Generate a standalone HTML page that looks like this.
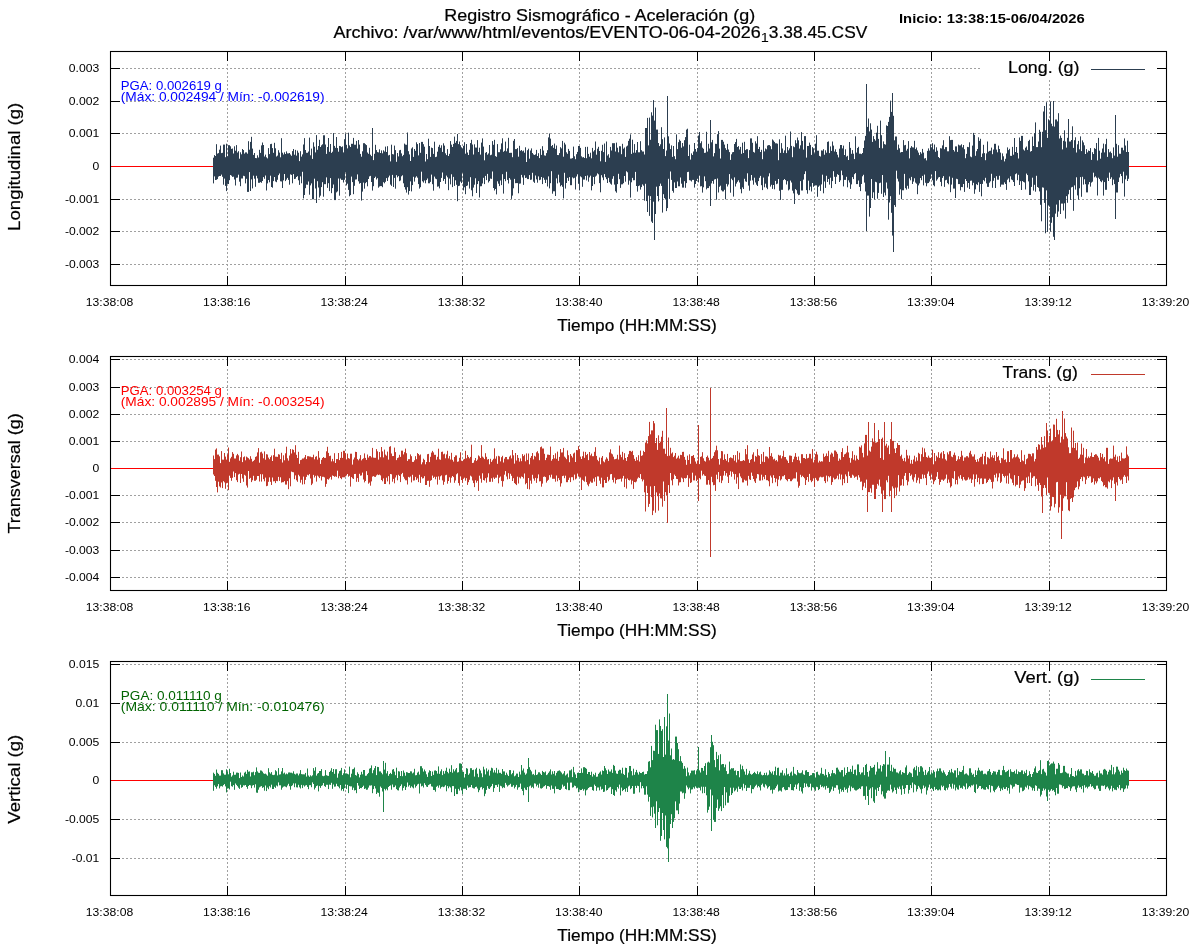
<!DOCTYPE html><html><head><meta charset="utf-8"><style>html,body{margin:0;padding:0;background:#fff;width:1200px;height:950px;overflow:hidden}svg{display:block;will-change:transform}text{font-family:"Liberation Sans", sans-serif;stroke-width:0.22px}</style></head><body>
<svg width="1200" height="950" viewBox="0 0 1200 950">
<rect x="0" y="0" width="1200" height="950" fill="#fff"/>
<text x="444.30" y="20.5" font-size="16.96" fill="#000" stroke="#000" textLength="310.89" lengthAdjust="spacingAndGlyphs">Registro Sismográfico - Aceleración (g)</text>
<text x="333.51" y="37.5" font-size="16.96" fill="#000" stroke="#000" textLength="427.20" lengthAdjust="spacingAndGlyphs">Archivo: /var/www/html/eventos/EVENTO-06-04-2026</text>
<text x="760.71" y="41.8" font-size="13.57" fill="#000" textLength="8.14" lengthAdjust="spacingAndGlyphs">1</text>
<text x="768.86" y="37.5" font-size="16.96" fill="#000" stroke="#000" textLength="98.43" lengthAdjust="spacingAndGlyphs">3.38.45.CSV</text>
<text x="899.00" y="23" font-size="12.72" fill="#000" font-weight="bold" style="stroke:none" textLength="185.81" lengthAdjust="spacingAndGlyphs">Inicio: 13:38:15-06/04/2026</text>
<path d="M227.5 64V275 M345.5 64V275 M462.5 64V275 M579.5 64V275 M697.5 64V275 M814.5 64V275 M931.5 64V275 M1049.5 64V275 M122 68.5H1156 M122 101.5H1156 M122 133.5H1156 M122 199.5H1156 M122 231.5H1156 M122 264.5H1156" stroke="#a0a0a0" stroke-width="1" stroke-dasharray="2,2" fill="none"/>
<rect x="980" y="57" width="177" height="23" fill="#fff"/>
<path d="M110 166.5H1166" stroke="#ff0000" stroke-width="1.2"/>
<path d="M213.5 157.7V183.4M214.5 155.1V176.4M215.5 156.0V180.0M216.5 144.2V179.8M217.5 153.6V179.1M218.5 153.1V176.6M219.5 149.7V176.0M220.5 145.6V176.0M221.5 153.1V174.6M222.5 152.8V176.8M223.5 144.6V184.7M224.5 144.6V178.6M225.5 157.2V185.9M226.5 143.7V191.1M227.5 156.3V183.9M228.5 145.2V184.0M229.5 145.2V180.2M230.5 146.3V175.0M231.5 148.9V175.7M232.5 148.5V176.9M233.5 153.5V176.7M234.5 146.3V179.5M235.5 150.7V185.5M236.5 145.1V177.8M237.5 152.5V177.6M238.5 151.2V174.7M239.5 158.7V181.7M240.5 152.3V186.2M241.5 154.3V178.5M242.5 149.0V178.5M243.5 150.0V175.8M244.5 153.6V176.2M245.5 152.4V183.4M246.5 152.4V178.8M247.5 153.7V191.9M248.5 141.2V191.9M249.5 149.7V172.1M250.5 141.9V191.0M251.5 136.8V179.4M252.5 148.6V188.4M253.5 154.9V175.7M254.5 153.0V178.7M255.5 158.0V186.8M256.5 158.2V175.8M257.5 155.3V178.4M258.5 157.5V182.8M259.5 149.8V182.8M260.5 152.9V182.1M261.5 145.4V182.8M262.5 142.5V181.0M263.5 145.0V177.1M264.5 156.5V178.8M265.5 154.6V175.5M266.5 157.3V190.5M267.5 158.4V183.4M268.5 148.1V180.0M269.5 154.1V182.3M270.5 144.1V175.7M271.5 143.8V187.0M272.5 148.1V187.7M273.5 152.8V181.1M274.5 142.8V177.0M275.5 148.3V181.5M276.5 156.5V182.2M277.5 155.6V179.8M278.5 150.2V175.2M279.5 152.6V173.5M280.5 157.3V181.3M281.5 138.2V181.5M282.5 152.7V188.0M283.5 154.5V180.4M284.5 152.3V174.0M285.5 154.0V181.1M286.5 151.4V179.6M287.5 153.4V177.9M288.5 153.4V179.9M289.5 153.0V184.7M290.5 154.5V174.4M291.5 155.8V174.9M292.5 151.1V183.3M293.5 149.0V174.1M294.5 154.7V179.0M295.5 149.9V178.7M296.5 155.6V177.0M297.5 150.6V176.2M298.5 152.7V180.3M299.5 161.1V184.9M300.5 151.2V176.4M301.5 156.6V183.3M302.5 154.4V171.8M303.5 144.5V198.4M304.5 138.1V195.0M305.5 150.0V188.2M306.5 152.8V184.6M307.5 152.8V184.8M308.5 151.5V181.5M309.5 137.6V194.7M310.5 155.3V185.4M311.5 148.6V183.4M312.5 158.9V199.3M313.5 142.3V199.3M314.5 146.7V178.7M315.5 152.4V188.5M316.5 135.1V203.0M317.5 149.8V181.2M318.5 146.0V187.5M319.5 139.8V197.5M320.5 147.0V195.7M321.5 145.3V187.1M322.5 144.3V182.2M323.5 135.3V196.7M324.5 135.3V184.2M325.5 144.5V184.2M326.5 153.9V177.4M327.5 147.0V187.9M328.5 138.0V183.2M329.5 151.8V191.1M330.5 144.0V178.1M331.5 152.9V193.2M332.5 151.7V188.1M333.5 133.1V184.5M334.5 145.9V200.1M335.5 147.8V200.1M336.5 137.0V192.4M337.5 148.1V191.4M338.5 151.7V178.5M339.5 145.9V195.7M340.5 146.2V178.6M341.5 147.1V179.9M342.5 146.4V179.9M343.5 152.4V182.5M344.5 139.2V179.8M345.5 133.6V172.3M346.5 144.8V185.4M347.5 148.4V183.7M348.5 132.7V189.9M349.5 145.4V196.3M350.5 147.0V195.1M351.5 143.8V176.6M352.5 143.8V182.1M353.5 137.9V194.2M354.5 144.7V185.8M355.5 144.7V179.6M356.5 140.9V179.4M357.5 148.6V174.4M358.5 140.0V181.3M359.5 144.6V183.7M360.5 153.9V183.0M361.5 156.7V200.6M362.5 151.3V191.6M363.5 143.2V182.6M364.5 143.2V188.7M365.5 144.2V183.2M366.5 145.1V182.1M367.5 152.5V186.3M368.5 153.8V179.0M369.5 147.8V176.4M370.5 154.7V175.9M371.5 156.1V182.0M372.5 128.0V190.6M373.5 160.1V186.2M374.5 153.8V178.0M375.5 144.8V176.7M376.5 150.1V179.5M377.5 152.1V178.2M378.5 152.4V187.7M379.5 149.3V186.5M380.5 153.0V186.1M381.5 150.4V186.1M382.5 153.3V187.2M383.5 150.3V182.2M384.5 151.5V183.3M385.5 146.6V181.8M386.5 152.0V178.1M387.5 146.2V181.0M388.5 155.4V177.4M389.5 154.9V175.6M390.5 161.4V184.6M391.5 144.7V185.9M392.5 154.1V174.9M393.5 154.4V187.0M394.5 145.6V177.9M395.5 150.1V188.7M396.5 161.8V175.2M397.5 153.0V177.3M398.5 156.4V176.1M399.5 150.3V181.2M400.5 149.9V180.5M401.5 153.4V176.3M402.5 156.2V175.3M403.5 154.9V183.3M404.5 143.6V187.1M405.5 144.6V189.6M406.5 144.8V192.6M407.5 132.5V187.2M408.5 151.2V194.6M409.5 154.4V191.0M410.5 161.0V181.4M411.5 148.5V191.4M412.5 147.3V185.1M413.5 156.9V176.8M414.5 149.0V181.6M415.5 150.8V177.6M416.5 142.3V176.3M417.5 144.1V177.7M418.5 155.4V184.1M419.5 143.0V188.6M420.5 152.8V187.2M421.5 141.9V171.7M422.5 141.9V181.3M423.5 144.2V182.6M424.5 146.7V180.5M425.5 161.5V183.3M426.5 154.0V180.1M427.5 159.2V178.5M428.5 138.7V183.3M429.5 146.0V183.3M430.5 156.9V181.9M431.5 147.6V174.6M432.5 148.1V184.2M433.5 153.9V190.7M434.5 141.7V176.6M435.5 157.1V178.6M436.5 156.7V179.2M437.5 151.7V186.7M438.5 146.8V186.4M439.5 144.8V188.4M440.5 147.8V182.0M441.5 145.3V177.9M442.5 151.9V172.5M443.5 143.3V180.9M444.5 145.6V179.0M445.5 153.3V183.9M446.5 155.1V175.6M447.5 149.1V177.3M448.5 156.0V190.2M449.5 153.8V178.6M450.5 141.1V184.4M451.5 144.6V174.3M452.5 147.0V187.1M453.5 143.9V176.9M454.5 136.6V185.9M455.5 142.8V180.3M456.5 140.9V184.8M457.5 134.0V201.2M458.5 144.1V186.1M459.5 141.5V185.7M460.5 145.2V181.6M461.5 147.3V183.1M462.5 148.6V172.8M463.5 145.8V190.4M464.5 142.2V187.3M465.5 153.7V194.2M466.5 144.0V186.0M467.5 152.5V185.5M468.5 155.0V181.7M469.5 149.8V188.6M470.5 143.1V177.2M471.5 139.8V190.3M472.5 144.5V196.3M473.5 154.5V187.6M474.5 144.3V184.7M475.5 147.5V178.3M476.5 147.6V193.0M477.5 140.1V184.1M478.5 152.0V181.1M479.5 147.7V197.5M480.5 154.6V186.3M481.5 142.6V186.2M482.5 138.4V183.5M483.5 146.6V177.8M484.5 160.3V184.1M485.5 152.8V175.9M486.5 152.0V180.1M487.5 154.7V173.9M488.5 153.4V182.5M489.5 145.0V181.1M490.5 155.2V178.6M491.5 154.7V178.9M492.5 141.1V171.5M493.5 144.8V188.0M494.5 139.8V190.5M495.5 156.1V189.0M496.5 156.8V194.4M497.5 144.1V181.3M498.5 152.2V183.7M499.5 152.2V186.1M500.5 149.3V180.5M501.5 143.4V185.1M502.5 138.3V174.2M503.5 151.8V193.6M504.5 150.8V179.0M505.5 141.6V181.2M506.5 151.3V171.8M507.5 148.4V179.9M508.5 137.8V183.5M509.5 152.9V178.1M510.5 152.8V179.7M511.5 152.8V198.9M512.5 157.2V195.6M513.5 140.8V188.3M514.5 139.0V178.9M515.5 149.1V183.2M516.5 149.1V183.1M517.5 148.1V183.1M518.5 156.7V193.3M519.5 145.8V183.7M520.5 150.8V183.5M521.5 150.0V174.9M522.5 151.3V177.5M523.5 150.6V184.9M524.5 152.7V175.3M525.5 147.3V178.0M526.5 162.0V177.7M527.5 150.2V179.1M528.5 148.7V179.1M529.5 158.7V175.1M530.5 150.5V179.9M531.5 148.4V179.6M532.5 153.0V172.8M533.5 154.4V181.7M534.5 155.0V182.9M535.5 154.4V175.5M536.5 149.9V179.4M537.5 156.0V182.7M538.5 153.2V176.4M539.5 158.1V180.2M540.5 148.9V179.7M541.5 154.9V177.0M542.5 146.2V184.1M543.5 150.5V177.8M544.5 155.4V179.8M545.5 155.7V183.0M546.5 153.1V179.7M547.5 150.2V186.5M548.5 137.4V176.4M549.5 133.5V188.4M550.5 138.6V183.2M551.5 146.1V171.2M552.5 145.0V193.7M553.5 147.8V191.3M554.5 143.6V191.3M555.5 148.9V196.0M556.5 145.5V178.4M557.5 155.0V183.4M558.5 155.1V174.7M559.5 153.1V182.5M560.5 147.2V186.3M561.5 148.4V185.1M562.5 140.9V186.8M563.5 156.7V198.4M564.5 142.7V172.8M565.5 144.5V188.6M566.5 152.3V183.0M567.5 153.8V177.9M568.5 148.9V180.9M569.5 150.9V177.1M570.5 158.6V185.2M571.5 158.5V185.2M572.5 158.1V177.4M573.5 146.6V178.4M574.5 156.3V177.8M575.5 159.2V189.5M576.5 154.2V176.5M577.5 151.9V174.3M578.5 146.0V183.8M579.5 146.0V190.4M580.5 147.9V176.4M581.5 156.3V177.3M582.5 157.4V186.8M583.5 157.1V179.6M584.5 158.0V179.6M585.5 146.9V176.0M586.5 158.2V180.4M587.5 146.8V175.5M588.5 153.9V181.7M589.5 156.7V177.4M590.5 152.7V175.7M591.5 158.3V190.4M592.5 147.9V186.0M593.5 151.5V177.0M594.5 150.2V184.2M595.5 141.5V176.6M596.5 154.7V175.6M597.5 148.7V173.4M598.5 146.8V174.3M599.5 151.0V183.1M600.5 161.3V192.3M601.5 150.8V175.2M602.5 144.8V177.5M603.5 152.1V180.2M604.5 143.5V174.1M605.5 161.9V177.2M606.5 141.5V179.2M607.5 155.5V183.0M608.5 154.2V177.9M609.5 157.7V182.2M610.5 146.9V183.7M611.5 150.5V184.7M612.5 143.2V178.8M613.5 143.2V176.2M614.5 143.2V184.6M615.5 151.5V191.3M616.5 142.6V192.7M617.5 147.7V184.1M618.5 152.3V173.8M619.5 146.2V179.2M620.5 146.3V187.9M621.5 154.2V184.4M622.5 143.8V184.3M623.5 148.7V183.2M624.5 147.5V176.0M625.5 156.9V181.7M626.5 146.5V171.3M627.5 145.6V172.3M628.5 140.9V184.7M629.5 138.7V180.6M630.5 134.4V197.6M631.5 153.9V182.3M632.5 139.7V177.9M633.5 152.7V180.3M634.5 144.1V180.2M635.5 152.7V171.9M636.5 150.1V186.0M637.5 142.0V191.6M638.5 152.3V186.1M639.5 152.3V185.5M640.5 141.2V189.6M641.5 150.2V187.1M642.5 151.5V184.4M643.5 151.5V185.7M644.5 154.5V200.7M645.5 128.0V183.8M646.5 128.0V201.1M647.5 117.9V212.0M648.5 145.4V195.7M649.5 117.6V215.9M650.5 139.8V196.2M651.5 112.3V221.6M652.5 115.6V223.0M653.5 100.1V201.7M654.5 120.6V240.0M655.5 107.5V214.0M656.5 129.6V186.7M657.5 129.6V196.0M658.5 143.0V201.4M659.5 146.1V186.1M660.5 144.3V183.6M661.5 127.2V185.9M662.5 139.2V212.6M663.5 149.0V194.2M664.5 137.4V198.1M665.5 156.1V199.5M666.5 150.5V211.1M667.5 96.0V208.1M668.5 136.3V178.8M669.5 143.5V198.9M670.5 149.1V171.5M671.5 145.4V179.9M672.5 156.9V190.9M673.5 146.0V192.7M674.5 156.2V182.4M675.5 159.2V188.0M676.5 134.4V188.0M677.5 149.1V181.5M678.5 142.2V186.3M679.5 139.6V186.3M680.5 140.9V177.5M681.5 147.7V183.7M682.5 143.0V187.6M683.5 146.4V187.6M684.5 140.2V181.2M685.5 137.1V187.8M686.5 129.6V183.1M687.5 128.7V172.1M688.5 156.0V171.8M689.5 144.7V180.2M690.5 159.6V180.5M691.5 153.4V181.5M692.5 155.0V179.9M693.5 151.5V179.9M694.5 143.0V187.6M695.5 149.0V184.0M696.5 151.7V181.0M697.5 148.0V178.8M698.5 135.5V182.4M699.5 132.0V175.7M700.5 143.2V186.4M701.5 141.3V186.2M702.5 147.7V192.6M703.5 148.8V187.3M704.5 152.9V176.4M705.5 152.7V181.2M706.5 131.8V189.4M707.5 151.6V188.1M708.5 143.8V188.1M709.5 148.5V186.2M710.5 120.0V206.0M711.5 142.3V183.4M712.5 139.9V181.0M713.5 156.4V183.8M714.5 153.1V179.5M715.5 143.8V179.1M716.5 143.9V199.7M717.5 134.2V178.5M718.5 131.1V192.5M719.5 148.6V186.8M720.5 158.5V185.7M721.5 139.9V190.3M722.5 139.9V191.4M723.5 141.7V191.4M724.5 144.6V189.8M725.5 148.2V199.3M726.5 149.9V183.9M727.5 143.9V186.5M728.5 149.5V184.5M729.5 152.1V174.1M730.5 159.9V192.7M731.5 154.3V178.7M732.5 152.3V180.2M733.5 152.0V196.6M734.5 144.0V177.4M735.5 142.1V186.5M736.5 138.9V183.6M737.5 147.0V181.8M738.5 146.1V180.3M739.5 149.5V182.5M740.5 146.9V189.2M741.5 153.8V193.3M742.5 142.7V187.4M743.5 153.0V189.0M744.5 141.8V178.8M745.5 150.1V181.4M746.5 149.2V181.9M747.5 149.2V173.3M748.5 158.1V185.6M749.5 150.1V190.7M750.5 138.4V180.7M751.5 138.4V175.0M752.5 142.8V180.4M753.5 151.9V184.7M754.5 152.6V177.7M755.5 141.3V182.5M756.5 143.5V184.7M757.5 136.2V186.0M758.5 149.0V181.1M759.5 146.9V177.8M760.5 152.0V175.9M761.5 149.8V185.2M762.5 159.2V190.1M763.5 140.1V177.6M764.5 151.4V187.3M765.5 148.5V183.7M766.5 149.3V187.7M767.5 145.6V189.2M768.5 145.1V176.4M769.5 145.1V173.3M770.5 146.2V186.6M771.5 149.2V184.8M772.5 139.4V188.9M773.5 140.5V185.0M774.5 141.9V189.3M775.5 143.3V180.9M776.5 143.3V184.2M777.5 143.7V183.6M778.5 160.2V179.0M779.5 139.3V190.8M780.5 152.9V199.9M781.5 143.1V189.8M782.5 148.5V189.8M783.5 152.9V180.1M784.5 150.4V179.1M785.5 135.7V180.1M786.5 153.1V184.5M787.5 147.0V181.2M788.5 150.3V190.4M789.5 148.4V189.4M790.5 131.5V180.6M791.5 145.9V182.5M792.5 157.2V190.7M793.5 146.4V193.4M794.5 147.2V204.0M795.5 140.2V189.1M796.5 143.3V190.2M797.5 137.5V193.7M798.5 140.3V195.2M799.5 148.6V194.8M800.5 145.3V181.1M801.5 132.1V190.5M802.5 140.9V190.5M803.5 149.6V179.6M804.5 136.1V174.1M805.5 136.1V171.3M806.5 157.6V190.1M807.5 146.0V193.7M808.5 146.0V180.7M809.5 142.6V190.2M810.5 144.9V186.6M811.5 154.9V191.5M812.5 147.1V183.0M813.5 148.3V186.8M814.5 153.3V185.6M815.5 143.7V185.4M816.5 135.2V185.4M817.5 150.7V196.8M818.5 150.7V186.8M819.5 155.9V185.6M820.5 156.5V190.9M821.5 150.4V184.4M822.5 150.6V174.7M823.5 149.2V193.3M824.5 154.7V181.5M825.5 150.3V187.9M826.5 152.7V175.8M827.5 141.9V182.0M828.5 141.4V179.0M829.5 153.1V184.6M830.5 146.4V177.7M831.5 150.9V188.1M832.5 141.5V181.1M833.5 145.6V171.2M834.5 151.5V176.8M835.5 149.3V184.0M836.5 152.0V176.8M837.5 154.7V174.2M838.5 157.4V175.0M839.5 148.7V182.0M840.5 145.0V180.3M841.5 145.0V170.6M842.5 148.4V175.2M843.5 145.6V186.4M844.5 155.0V179.9M845.5 149.3V179.9M846.5 156.6V176.8M847.5 155.8V187.3M848.5 160.0V180.3M849.5 142.0V182.5M850.5 147.9V188.9M851.5 153.8V184.4M852.5 150.1V177.1M853.5 153.7V179.1M854.5 159.1V174.2M855.5 136.3V173.1M856.5 152.6V184.1M857.5 148.0V184.1M858.5 146.8V180.5M859.5 153.7V186.9M860.5 153.7V191.1M861.5 154.1V184.0M862.5 153.0V176.3M863.5 148.0V174.8M864.5 140.5V182.6M865.5 135.9V191.5M866.5 84.0V231.0M867.5 126.9V195.6M868.5 118.5V195.6M869.5 131.4V216.6M870.5 123.3V208.0M871.5 129.6V179.0M872.5 141.9V198.0M873.5 136.1V192.3M874.5 139.1V199.5M875.5 140.6V181.8M876.5 132.7V182.3M877.5 125.8V198.7M878.5 138.9V192.9M879.5 147.9V183.2M880.5 120.6V182.7M881.5 135.2V193.8M882.5 148.3V175.0M883.5 141.4V197.0M884.5 144.1V192.6M885.5 144.6V195.4M886.5 125.4V182.5M887.5 126.0V188.6M888.5 121.9V219.7M889.5 116.9V202.5M890.5 100.7V196.2M891.5 111.9V212.8M892.5 93.0V235.6M893.5 115.8V252.0M894.5 140.3V205.1M895.5 136.5V206.9M896.5 136.5V170.7M897.5 149.8V178.7M898.5 144.6V181.5M899.5 148.3V194.7M900.5 152.5V189.3M901.5 152.0V199.2M902.5 152.0V190.3M903.5 140.1V190.3M904.5 145.3V173.9M905.5 144.9V188.2M906.5 150.6V189.6M907.5 148.8V185.8M908.5 141.1V188.7M909.5 158.4V178.4M910.5 147.8V180.3M911.5 146.1V176.9M912.5 147.3V184.0M913.5 147.5V181.6M914.5 140.8V178.3M915.5 149.1V182.6M916.5 147.5V183.7M917.5 150.4V194.2M918.5 152.6V185.4M919.5 155.1V183.4M920.5 152.1V178.0M921.5 153.6V180.2M922.5 148.9V175.9M923.5 152.6V185.4M924.5 158.5V174.6M925.5 158.1V182.8M926.5 160.4V186.3M927.5 150.9V183.3M928.5 148.4V183.0M929.5 150.6V181.6M930.5 144.3V178.9M931.5 147.3V174.5M932.5 143.2V180.3M933.5 149.4V185.2M934.5 144.5V186.3M935.5 151.8V171.1M936.5 147.3V180.7M937.5 150.7V179.3M938.5 157.0V177.5M939.5 158.1V177.0M940.5 148.2V181.9M941.5 148.5V186.2M942.5 145.4V177.9M943.5 140.2V176.1M944.5 149.2V186.9M945.5 147.1V180.3M946.5 147.1V179.8M947.5 151.3V183.1M948.5 151.3V184.3M949.5 136.2V176.5M950.5 140.1V192.2M951.5 139.9V184.6M952.5 139.9V177.8M953.5 150.0V188.6M954.5 151.5V188.6M955.5 146.4V198.0M956.5 146.4V178.8M957.5 151.9V179.2M958.5 144.6V184.1M959.5 145.4V184.1M960.5 145.4V190.4M961.5 144.3V187.0M962.5 147.4V187.2M963.5 145.0V184.0M964.5 149.2V191.9M965.5 158.2V179.1M966.5 153.9V181.0M967.5 146.9V187.6M968.5 147.2V183.0M969.5 142.3V189.0M970.5 156.5V180.8M971.5 157.2V180.6M972.5 145.6V185.3M973.5 132.9V182.8M974.5 134.9V193.8M975.5 155.8V189.4M976.5 151.2V184.2M977.5 149.0V185.1M978.5 137.3V182.3M979.5 140.9V191.9M980.5 138.8V184.0M981.5 157.0V196.3M982.5 153.5V183.9M983.5 144.8V180.1M984.5 153.1V181.3M985.5 160.2V177.8M986.5 153.4V183.4M987.5 141.5V186.9M988.5 151.7V186.9M989.5 150.9V182.7M990.5 150.7V181.3M991.5 147.6V173.8M992.5 154.2V187.8M993.5 149.5V180.8M994.5 143.8V177.9M995.5 143.8V188.0M996.5 149.6V176.2M997.5 152.3V179.7M998.5 145.6V179.7M999.5 149.0V175.8M1000.5 152.6V186.8M1001.5 159.8V184.6M1002.5 153.4V184.6M1003.5 156.3V184.7M1004.5 161.4V182.4M1005.5 158.8V184.0M1006.5 153.5V189.9M1007.5 147.4V179.7M1008.5 150.1V178.4M1009.5 148.8V182.2M1010.5 155.8V176.3M1011.5 155.9V179.5M1012.5 146.9V180.2M1013.5 154.7V182.0M1014.5 138.0V186.0M1015.5 152.0V174.2M1016.5 147.0V173.4M1017.5 152.9V180.2M1018.5 158.5V174.8M1019.5 137.5V185.0M1020.5 140.9V181.2M1021.5 135.9V190.0M1022.5 135.9V181.1M1023.5 149.5V181.9M1024.5 150.6V182.5M1025.5 147.7V189.5M1026.5 146.5V173.6M1027.5 149.9V175.1M1028.5 141.1V181.4M1029.5 139.8V195.0M1030.5 151.6V195.0M1031.5 151.0V186.9M1032.5 136.6V177.7M1033.5 146.0V190.6M1034.5 133.1V184.8M1035.5 122.4V191.7M1036.5 147.1V175.8M1037.5 147.1V187.0M1038.5 141.5V187.8M1039.5 129.8V191.4M1040.5 131.8V204.8M1041.5 147.2V221.3M1042.5 131.8V187.4M1043.5 111.5V187.7M1044.5 106.0V202.9M1045.5 130.2V233.3M1046.5 102.2V190.4M1047.5 137.9V232.0M1048.5 119.3V205.5M1049.5 120.7V206.7M1050.5 101.6V231.6M1051.5 123.7V222.8M1052.5 126.2V217.2M1053.5 101.0V236.8M1054.5 126.6V240.0M1055.5 119.5V213.6M1056.5 119.5V204.6M1057.5 121.4V216.9M1058.5 113.2V211.5M1059.5 138.5V200.2M1060.5 135.6V214.0M1061.5 137.9V203.6M1062.5 149.4V203.6M1063.5 140.8V210.5M1064.5 130.3V203.3M1065.5 141.5V218.6M1066.5 147.6V196.2M1067.5 137.8V202.8M1068.5 119.0V194.3M1069.5 141.5V189.9M1070.5 141.5V199.9M1071.5 140.0V187.4M1072.5 126.3V186.9M1073.5 147.9V210.8M1074.5 140.2V185.4M1075.5 137.3V189.6M1076.5 152.5V177.3M1077.5 144.3V195.4M1078.5 140.9V199.6M1079.5 149.3V188.3M1080.5 136.4V177.1M1081.5 151.1V196.8M1082.5 140.4V176.8M1083.5 142.4V184.6M1084.5 145.3V179.3M1085.5 154.0V184.2M1086.5 149.1V192.4M1087.5 152.4V192.4M1088.5 150.5V184.4M1089.5 151.0V182.0M1090.5 148.1V186.6M1091.5 159.9V182.6M1092.5 152.2V181.7M1093.5 154.0V172.7M1094.5 148.1V177.3M1095.5 148.9V176.3M1096.5 143.0V177.7M1097.5 160.4V195.5M1098.5 137.9V177.7M1099.5 150.7V179.1M1100.5 158.7V181.2M1101.5 152.7V182.2M1102.5 148.5V180.5M1103.5 143.6V195.6M1104.5 152.4V182.1M1105.5 144.2V189.8M1106.5 138.8V189.8M1107.5 156.9V177.8M1108.5 149.1V181.0M1109.5 152.3V172.6M1110.5 151.5V178.9M1111.5 153.1V177.3M1112.5 158.2V185.2M1113.5 147.4V179.6M1114.5 155.6V184.1M1115.5 115.0V219.0M1116.5 143.8V192.5M1117.5 156.7V192.5M1118.5 145.2V182.0M1119.5 153.7V177.5M1120.5 153.8V173.9M1121.5 147.7V176.1M1122.5 147.7V183.3M1123.5 150.3V171.7M1124.5 138.4V196.6M1125.5 145.5V179.3M1126.5 152.0V175.5M1127.5 140.7V181.0M1128.5 152.0V178.8" stroke="#2c3e50" stroke-width="1" fill="none"/>
<path d="M227.5 51v10M227.5 286v-10 M345.5 51v10M345.5 286v-10 M462.5 51v10M462.5 286v-10 M579.5 51v10M579.5 286v-10 M697.5 51v10M697.5 286v-10 M814.5 51v10M814.5 286v-10 M931.5 51v10M931.5 286v-10 M1049.5 51v10M1049.5 286v-10 M110 68.5h10M1167 68.5h-10 M110 101.5h10M1167 101.5h-10 M110 133.5h10M1167 133.5h-10 M110 199.5h10M1167 199.5h-10 M110 231.5h10M1167 231.5h-10 M110 264.5h10M1167 264.5h-10" stroke="#000" stroke-width="1" fill="none"/>
<rect x="110.5" y="51.5" width="1056" height="234" stroke="#000" stroke-width="1.1" fill="none"/>
<text x="68.81" y="71.8" font-size="10.60" fill="#000" textLength="30.49" lengthAdjust="spacingAndGlyphs">0.003</text>
<text x="68.81" y="104.8" font-size="10.60" fill="#000" textLength="30.49" lengthAdjust="spacingAndGlyphs">0.002</text>
<text x="68.81" y="136.8" font-size="10.60" fill="#000" textLength="30.49" lengthAdjust="spacingAndGlyphs">0.001</text>
<text x="92.52" y="169.8" font-size="10.60" fill="#000" textLength="6.78" lengthAdjust="spacingAndGlyphs">0</text>
<text x="64.97" y="202.8" font-size="10.60" fill="#000" textLength="34.33" lengthAdjust="spacingAndGlyphs">-0.001</text>
<text x="64.97" y="234.8" font-size="10.60" fill="#000" textLength="34.33" lengthAdjust="spacingAndGlyphs">-0.002</text>
<text x="64.97" y="267.8" font-size="10.60" fill="#000" textLength="34.33" lengthAdjust="spacingAndGlyphs">-0.003</text>
<text x="85.81" y="306" font-size="10.60" fill="#000" textLength="47.38" lengthAdjust="spacingAndGlyphs">13:38:08</text>
<text x="203.14" y="306" font-size="10.60" fill="#000" textLength="47.38" lengthAdjust="spacingAndGlyphs">13:38:16</text>
<text x="320.48" y="306" font-size="10.60" fill="#000" textLength="47.38" lengthAdjust="spacingAndGlyphs">13:38:24</text>
<text x="437.81" y="306" font-size="10.60" fill="#000" textLength="47.38" lengthAdjust="spacingAndGlyphs">13:38:32</text>
<text x="555.14" y="306" font-size="10.60" fill="#000" textLength="47.38" lengthAdjust="spacingAndGlyphs">13:38:40</text>
<text x="672.48" y="306" font-size="10.60" fill="#000" textLength="47.38" lengthAdjust="spacingAndGlyphs">13:38:48</text>
<text x="789.81" y="306" font-size="10.60" fill="#000" textLength="47.38" lengthAdjust="spacingAndGlyphs">13:38:56</text>
<text x="907.14" y="306" font-size="10.60" fill="#000" textLength="47.38" lengthAdjust="spacingAndGlyphs">13:39:04</text>
<text x="1024.48" y="306" font-size="10.60" fill="#000" textLength="47.38" lengthAdjust="spacingAndGlyphs">13:39:12</text>
<text x="1141.81" y="306" font-size="10.60" fill="#000" textLength="47.38" lengthAdjust="spacingAndGlyphs">13:39:20</text>
<text x="557.38" y="330.8" font-size="16.96" fill="#000" stroke="#000" textLength="159.44" lengthAdjust="spacingAndGlyphs">Tiempo (HH:MM:SS)</text>
<text stroke="#000" x="-64.10" y="0" font-size="16.96" textLength="128.19" lengthAdjust="spacingAndGlyphs" transform="translate(19.7 166.8) rotate(-90)">Longitudinal (g)</text>
<text x="1007.97" y="72.8" font-size="16.96" fill="#000" stroke="#000" textLength="71.53" lengthAdjust="spacingAndGlyphs">Long. (g)</text>
<path d="M1091 69.5H1145" stroke="#2c3e50" stroke-width="1.2"/>
<text x="120.80" y="89.7" font-size="12.72" fill="#0000ff" textLength="101.08" lengthAdjust="spacingAndGlyphs">PGA: 0.002619 g</text>
<text x="120.80" y="101.2" font-size="12.72" fill="#0000ff" textLength="203.72" lengthAdjust="spacingAndGlyphs">(Máx: 0.002494 / Mín: -0.002619)</text>
<path d="M227.5 369V580 M345.5 369V580 M462.5 369V580 M579.5 369V580 M697.5 369V580 M814.5 369V580 M931.5 369V580 M1049.5 369V580 M122 359.5H1156 M122 387.5H1156 M122 414.5H1156 M122 441.5H1156 M122 495.5H1156 M122 522.5H1156 M122 550.5H1156 M122 577.5H1156" stroke="#a0a0a0" stroke-width="1" stroke-dasharray="2,2" fill="none"/>
<rect x="980" y="362" width="177" height="23" fill="#fff"/>
<path d="M110 468.5H1166" stroke="#ff0000" stroke-width="1.2"/>
<path d="M213.5 455.5V474.5M214.5 459.1V476.0M215.5 449.6V480.8M216.5 448.4V487.0M217.5 454.6V492.4M218.5 454.6V481.7M219.5 456.3V486.4M220.5 463.1V487.5M221.5 451.1V482.5M222.5 459.6V488.1M223.5 459.7V481.2M224.5 453.0V482.4M225.5 456.6V488.8M226.5 459.6V483.3M227.5 454.3V482.7M228.5 447.5V490.1M229.5 461.8V475.7M230.5 458.4V477.9M231.5 456.8V480.8M232.5 452.1V477.8M233.5 453.8V471.5M234.5 458.5V477.1M235.5 458.5V473.1M236.5 455.4V480.2M237.5 453.9V482.1M238.5 455.3V474.5M239.5 460.7V473.8M240.5 457.2V483.0M241.5 451.5V474.0M242.5 462.1V478.5M243.5 457.2V481.8M244.5 456.4V474.8M245.5 460.3V475.7M246.5 456.6V485.5M247.5 457.4V487.6M248.5 458.2V471.0M249.5 459.5V478.9M250.5 456.2V477.9M251.5 458.8V482.1M252.5 461.6V480.3M253.5 460.9V475.8M254.5 459.8V480.8M255.5 456.9V480.8M256.5 456.3V479.7M257.5 452.4V476.0M258.5 448.1V476.0M259.5 462.7V481.5M260.5 452.3V474.2M261.5 451.7V481.6M262.5 453.5V474.3M263.5 458.3V479.2M264.5 451.4V481.3M265.5 459.7V477.6M266.5 454.2V486.2M267.5 454.5V485.8M268.5 457.6V481.8M269.5 459.2V477.4M270.5 457.1V481.8M271.5 455.5V485.0M272.5 461.0V477.5M273.5 455.2V481.4M274.5 448.7V481.2M275.5 456.7V483.1M276.5 456.7V480.9M277.5 456.9V481.2M278.5 454.2V476.9M279.5 454.6V480.9M280.5 459.1V477.3M281.5 452.8V482.6M282.5 462.5V482.2M283.5 455.3V482.2M284.5 460.3V481.1M285.5 453.3V484.6M286.5 446.7V484.6M287.5 458.3V481.1M288.5 460.6V489.2M289.5 455.5V478.3M290.5 449.0V486.3M291.5 453.5V471.6M292.5 449.3V472.1M293.5 449.9V472.3M294.5 452.4V479.2M295.5 445.2V475.4M296.5 454.8V480.3M297.5 458.0V481.8M298.5 451.8V474.8M299.5 463.8V476.3M300.5 460.1V482.7M301.5 459.7V479.8M302.5 458.5V484.5M303.5 458.5V476.6M304.5 457.4V484.2M305.5 455.0V479.9M306.5 459.1V476.9M307.5 456.2V474.8M308.5 456.2V475.4M309.5 456.5V474.1M310.5 456.6V478.5M311.5 457.2V485.1M312.5 457.2V483.6M313.5 454.7V474.9M314.5 459.3V477.5M315.5 456.8V475.8M316.5 456.2V481.6M317.5 459.6V475.6M318.5 451.1V476.6M319.5 457.7V478.1M320.5 463.9V476.1M321.5 459.8V480.5M322.5 458.0V476.8M323.5 457.0V476.8M324.5 457.9V477.4M325.5 457.9V486.8M326.5 451.3V483.9M327.5 446.8V479.1M328.5 452.9V479.7M329.5 456.1V478.4M330.5 455.7V476.9M331.5 461.4V479.6M332.5 458.9V475.5M333.5 461.3V476.0M334.5 453.2V476.8M335.5 463.0V476.3M336.5 459.1V476.9M337.5 459.1V470.7M338.5 453.0V478.3M339.5 460.1V476.2M340.5 457.9V478.1M341.5 451.9V479.2M342.5 457.9V477.3M343.5 450.8V477.3M344.5 450.8V477.3M345.5 453.3V476.5M346.5 459.4V475.5M347.5 453.6V474.0M348.5 458.1V476.7M349.5 458.7V475.8M350.5 453.7V486.6M351.5 453.7V477.1M352.5 464.6V478.3M353.5 459.5V479.0M354.5 457.5V474.0M355.5 451.8V473.9M356.5 452.0V481.8M357.5 459.1V478.1M358.5 460.3V481.9M359.5 458.7V473.8M360.5 455.1V475.7M361.5 460.4V475.4M362.5 459.1V472.6M363.5 458.3V479.5M364.5 453.4V482.4M365.5 457.9V481.0M366.5 459.9V471.2M367.5 454.5V475.1M368.5 457.6V483.7M369.5 456.1V482.6M370.5 456.1V485.7M371.5 457.4V481.4M372.5 447.9V476.6M373.5 457.6V476.1M374.5 457.8V476.8M375.5 457.8V476.9M376.5 449.1V475.4M377.5 451.3V474.5M378.5 459.6V475.1M379.5 452.0V474.6M380.5 457.2V475.4M381.5 447.0V480.0M382.5 451.4V481.3M383.5 457.4V478.4M384.5 449.6V484.0M385.5 454.6V484.0M386.5 455.7V477.7M387.5 451.6V481.4M388.5 459.6V476.2M389.5 446.8V484.3M390.5 446.2V474.0M391.5 453.5V474.3M392.5 456.1V481.7M393.5 456.0V478.9M394.5 447.6V483.3M395.5 452.1V477.5M396.5 460.1V475.3M397.5 458.1V480.3M398.5 457.5V474.8M399.5 454.8V476.0M400.5 456.9V482.1M401.5 450.7V474.2M402.5 450.7V472.9M403.5 454.4V476.8M404.5 452.2V478.7M405.5 448.6V480.3M406.5 453.2V480.3M407.5 460.9V484.5M408.5 459.2V476.9M409.5 459.2V477.5M410.5 454.4V476.5M411.5 456.2V482.4M412.5 461.9V474.8M413.5 461.9V480.6M414.5 460.3V480.4M415.5 456.2V476.9M416.5 459.2V479.9M417.5 453.1V478.4M418.5 454.0V482.1M419.5 455.4V474.8M420.5 454.5V482.9M421.5 464.3V476.9M422.5 462.3V478.5M423.5 458.7V478.2M424.5 459.9V476.2M425.5 464.3V485.0M426.5 462.0V485.0M427.5 454.2V480.9M428.5 453.9V480.7M429.5 462.1V486.8M430.5 456.8V480.8M431.5 452.6V480.1M432.5 450.9V475.6M433.5 452.4V477.9M434.5 454.8V476.8M435.5 454.8V479.3M436.5 459.7V476.8M437.5 456.8V484.6M438.5 448.7V476.4M439.5 459.3V479.8M440.5 459.8V476.3M441.5 451.9V475.4M442.5 451.6V480.4M443.5 454.3V484.8M444.5 453.7V481.8M445.5 458.3V475.3M446.5 454.4V474.8M447.5 450.8V483.7M448.5 458.4V481.0M449.5 456.1V477.3M450.5 459.5V482.7M451.5 452.8V477.7M452.5 459.8V476.0M453.5 461.6V477.1M454.5 457.0V482.8M455.5 455.4V480.5M456.5 455.4V474.3M457.5 461.8V473.3M458.5 461.4V483.1M459.5 457.8V485.6M460.5 452.3V476.4M461.5 460.7V480.0M462.5 461.2V482.9M463.5 459.6V478.8M464.5 458.9V477.7M465.5 450.8V480.7M466.5 458.3V478.2M467.5 455.0V484.9M468.5 456.9V482.2M469.5 458.3V479.8M470.5 456.9V475.7M471.5 444.7V476.6M472.5 463.0V480.5M473.5 462.7V483.1M474.5 460.3V487.1M475.5 458.0V480.3M476.5 460.9V482.7M477.5 459.6V480.9M478.5 455.4V490.9M479.5 456.4V475.7M480.5 458.0V478.7M481.5 445.1V482.7M482.5 456.6V473.3M483.5 457.6V480.0M484.5 459.1V480.6M485.5 453.2V478.2M486.5 456.8V482.7M487.5 459.6V477.4M488.5 459.0V473.3M489.5 464.3V481.8M490.5 458.8V481.8M491.5 461.9V478.3M492.5 460.3V481.8M493.5 458.8V477.5M494.5 448.3V479.0M495.5 458.7V477.7M496.5 456.3V477.7M497.5 463.8V474.8M498.5 455.8V483.3M499.5 456.4V477.7M500.5 461.4V476.5M501.5 457.2V480.9M502.5 455.8V486.7M503.5 462.5V481.2M504.5 458.7V474.7M505.5 457.0V471.1M506.5 457.0V476.5M507.5 459.3V479.4M508.5 459.3V473.2M509.5 456.6V478.9M510.5 455.4V473.8M511.5 458.4V475.8M512.5 450.0V481.0M513.5 455.3V478.2M514.5 463.6V483.1M515.5 453.0V484.1M516.5 460.5V485.1M517.5 455.0V476.7M518.5 457.9V483.5M519.5 461.6V477.4M520.5 458.4V478.5M521.5 461.2V476.5M522.5 454.1V477.0M523.5 456.1V478.5M524.5 454.7V473.5M525.5 461.3V484.3M526.5 453.4V483.1M527.5 459.9V488.9M528.5 453.5V478.0M529.5 464.3V489.4M530.5 457.8V480.6M531.5 456.0V483.7M532.5 453.0V474.8M533.5 459.4V478.6M534.5 455.8V480.7M535.5 456.6V477.9M536.5 452.3V482.9M537.5 451.2V478.3M538.5 453.3V474.4M539.5 460.2V481.4M540.5 447.2V481.2M541.5 446.5V486.7M542.5 448.5V483.6M543.5 448.5V476.9M544.5 453.8V476.5M545.5 460.1V477.1M546.5 457.8V482.6M547.5 454.6V480.8M548.5 454.7V479.8M549.5 455.0V475.2M550.5 446.6V477.4M551.5 460.7V474.7M552.5 459.1V478.8M553.5 455.0V478.8M554.5 458.4V478.8M555.5 453.3V481.7M556.5 458.8V475.5M557.5 451.6V481.3M558.5 460.8V478.1M559.5 456.9V480.1M560.5 449.0V486.6M561.5 452.5V483.3M562.5 452.4V476.1M563.5 447.9V475.7M564.5 456.6V478.2M565.5 457.7V475.7M566.5 459.2V482.2M567.5 450.4V482.2M568.5 455.2V479.9M569.5 462.2V477.7M570.5 454.0V482.1M571.5 455.8V477.2M572.5 457.5V477.2M573.5 453.5V480.3M574.5 452.6V474.6M575.5 462.0V479.4M576.5 450.0V478.5M577.5 450.2V473.6M578.5 446.1V476.5M579.5 449.1V477.2M580.5 456.6V477.5M581.5 459.0V490.0M582.5 456.2V479.8M583.5 451.6V480.8M584.5 457.8V481.7M585.5 451.9V476.4M586.5 455.1V482.1M587.5 453.9V484.7M588.5 460.1V486.3M589.5 452.0V483.7M590.5 455.4V481.5M591.5 453.6V482.7M592.5 456.2V482.7M593.5 456.2V478.6M594.5 451.8V481.6M595.5 447.2V477.2M596.5 455.9V486.0M597.5 459.8V476.4M598.5 461.2V476.5M599.5 457.5V480.7M600.5 464.3V483.8M601.5 457.7V477.7M602.5 456.0V487.4M603.5 461.3V487.4M604.5 462.3V480.0M605.5 459.5V483.0M606.5 457.3V482.9M607.5 458.7V476.9M608.5 460.9V481.3M609.5 452.4V479.7M610.5 449.3V474.3M611.5 453.5V474.0M612.5 454.3V479.9M613.5 456.7V482.4M614.5 459.3V477.7M615.5 459.1V483.6M616.5 458.7V480.0M617.5 454.8V479.3M618.5 459.5V479.3M619.5 445.6V479.1M620.5 454.7V478.7M621.5 457.2V481.6M622.5 451.8V478.4M623.5 459.7V475.9M624.5 453.2V487.1M625.5 458.0V478.8M626.5 460.9V488.6M627.5 457.0V478.5M628.5 454.3V480.0M629.5 450.9V480.5M630.5 450.9V479.6M631.5 451.8V484.4M632.5 450.8V480.7M633.5 455.1V488.9M634.5 458.8V482.0M635.5 460.9V482.4M636.5 457.2V481.5M637.5 460.2V478.6M638.5 455.2V477.3M639.5 461.5V478.0M640.5 450.6V474.1M641.5 455.9V479.1M642.5 455.3V481.4M643.5 450.8V479.7M644.5 452.0V492.3M645.5 442.6V511.5M646.5 440.4V485.8M647.5 443.4V493.0M648.5 436.1V506.9M649.5 421.9V503.9M650.5 434.3V486.4M651.5 430.4V497.1M652.5 430.4V515.1M653.5 421.0V510.7M654.5 423.3V486.0M655.5 443.0V512.7M656.5 438.0V492.4M657.5 449.9V496.2M658.5 435.3V510.6M659.5 442.9V493.5M660.5 441.7V498.3M661.5 436.8V498.5M662.5 430.8V506.7M663.5 448.7V481.5M664.5 448.7V501.0M665.5 453.8V492.1M666.5 408.0V495.3M667.5 456.1V523.0M668.5 437.5V485.1M669.5 455.7V493.0M670.5 447.8V473.0M671.5 453.5V480.4M672.5 452.4V485.3M673.5 457.1V479.1M674.5 455.7V474.6M675.5 453.0V476.0M676.5 458.7V478.9M677.5 457.6V479.1M678.5 455.7V485.5M679.5 458.6V482.4M680.5 454.8V482.2M681.5 455.1V477.6M682.5 451.9V478.6M683.5 451.8V482.1M684.5 456.9V478.0M685.5 459.8V478.5M686.5 464.8V477.9M687.5 455.6V475.2M688.5 460.0V486.9M689.5 454.3V478.4M690.5 463.8V483.0M691.5 456.1V482.3M692.5 455.9V472.7M693.5 455.0V480.4M694.5 457.9V480.4M695.5 461.5V475.6M696.5 463.7V481.0M697.5 460.5V479.7M698.5 425.0V501.0M699.5 464.1V478.1M700.5 456.9V479.3M701.5 456.4V470.7M702.5 452.2V475.6M703.5 458.3V474.2M704.5 460.8V475.6M705.5 461.6V476.0M706.5 457.0V484.7M707.5 455.6V484.7M708.5 457.7V480.1M709.5 460.3V484.7M710.5 388.0V557.0M711.5 458.8V476.8M712.5 457.9V482.2M713.5 455.9V485.3M714.5 452.2V484.9M715.5 450.3V490.9M716.5 445.7V474.7M717.5 450.3V479.2M718.5 459.0V472.1M719.5 464.6V482.2M720.5 458.4V475.9M721.5 451.0V483.1M722.5 451.3V480.5M723.5 459.9V475.6M724.5 454.3V471.0M725.5 459.0V475.6M726.5 460.7V473.1M727.5 453.9V476.7M728.5 462.2V483.0M729.5 458.1V475.1M730.5 457.3V471.3M731.5 457.8V476.7M732.5 458.3V471.8M733.5 455.0V473.8M734.5 460.7V479.6M735.5 455.1V474.1M736.5 462.4V483.7M737.5 451.1V477.3M738.5 459.6V489.1M739.5 452.7V473.3M740.5 461.1V476.5M741.5 461.1V478.2M742.5 460.8V482.4M743.5 460.0V482.4M744.5 460.8V479.7M745.5 449.0V480.7M746.5 454.3V480.6M747.5 445.2V485.6M748.5 459.3V475.9M749.5 462.9V479.4M750.5 459.9V480.0M751.5 459.0V472.6M752.5 454.5V475.9M753.5 452.3V479.0M754.5 461.6V481.4M755.5 455.9V483.0M756.5 456.7V478.4M757.5 449.1V474.0M758.5 455.2V474.4M759.5 455.8V480.6M760.5 464.0V480.6M761.5 454.1V474.7M762.5 461.7V480.3M763.5 451.9V476.8M764.5 462.1V479.2M765.5 456.4V475.0M766.5 456.4V480.2M767.5 456.8V480.2M768.5 458.4V481.2M769.5 447.0V486.3M770.5 455.9V475.6M771.5 453.2V477.5M772.5 456.8V483.2M773.5 459.4V475.2M774.5 458.7V478.0M775.5 460.7V482.3M776.5 460.0V478.7M777.5 461.5V486.2M778.5 454.8V479.6M779.5 455.6V476.1M780.5 455.3V480.5M781.5 458.4V479.3M782.5 456.2V476.3M783.5 450.7V476.3M784.5 457.1V475.1M785.5 457.0V479.1M786.5 459.4V480.1M787.5 460.7V481.3M788.5 463.0V479.0M789.5 455.5V479.0M790.5 455.6V481.2M791.5 455.9V481.2M792.5 462.1V479.6M793.5 459.3V478.5M794.5 456.6V478.4M795.5 453.1V478.5M796.5 456.9V472.3M797.5 460.0V481.6M798.5 456.5V487.7M799.5 460.5V485.8M800.5 463.2V474.8M801.5 454.2V477.2M802.5 454.2V475.8M803.5 458.0V477.0M804.5 458.0V478.3M805.5 458.9V485.0M806.5 454.1V480.1M807.5 458.3V477.0M808.5 457.8V481.8M809.5 453.8V473.9M810.5 453.8V480.3M811.5 458.6V482.2M812.5 449.1V480.9M813.5 462.4V478.4M814.5 459.6V486.9M815.5 454.1V477.9M816.5 451.7V479.8M817.5 454.5V481.2M818.5 462.5V480.6M819.5 460.7V477.5M820.5 461.8V476.7M821.5 461.2V477.3M822.5 461.5V477.3M823.5 453.6V476.8M824.5 456.9V481.1M825.5 455.9V483.1M826.5 453.4V475.6M827.5 456.1V481.5M828.5 450.8V476.2M829.5 461.9V477.4M830.5 454.5V476.1M831.5 452.6V484.9M832.5 453.6V482.1M833.5 456.8V477.7M834.5 450.5V479.5M835.5 450.5V479.2M836.5 451.8V478.4M837.5 453.8V475.7M838.5 460.8V479.4M839.5 458.5V473.8M840.5 459.8V479.5M841.5 452.0V474.6M842.5 448.2V485.3M843.5 457.0V479.1M844.5 454.4V483.1M845.5 453.8V474.4M846.5 452.5V476.3M847.5 445.8V483.0M848.5 452.4V471.6M849.5 457.8V476.0M850.5 462.7V477.8M851.5 458.2V477.8M852.5 451.2V474.7M853.5 459.7V475.6M854.5 454.9V477.8M855.5 460.5V476.8M856.5 455.5V476.5M857.5 458.8V479.8M858.5 459.9V475.2M859.5 446.7V477.5M860.5 447.5V481.8M861.5 445.4V481.5M862.5 452.9V490.1M863.5 457.3V486.5M864.5 443.4V482.8M865.5 434.9V487.9M866.5 434.9V479.6M867.5 455.6V512.0M868.5 422.0V492.1M869.5 450.6V492.1M870.5 451.7V488.4M871.5 446.6V492.7M872.5 438.4V484.8M873.5 441.7V484.8M874.5 423.0V499.0M875.5 442.5V499.0M876.5 442.5V488.9M877.5 441.9V483.9M878.5 430.1V485.5M879.5 439.1V479.6M880.5 458.0V486.7M881.5 438.9V493.7M882.5 437.6V512.0M883.5 459.8V490.4M884.5 422.0V499.1M885.5 445.7V499.1M886.5 443.7V480.3M887.5 447.6V482.3M888.5 445.5V475.8M889.5 454.1V496.3M890.5 439.1V490.8M891.5 422.0V512.0M892.5 440.9V486.4M893.5 440.9V488.4M894.5 448.6V498.1M895.5 453.0V487.6M896.5 448.0V495.5M897.5 443.1V487.5M898.5 445.0V475.2M899.5 445.0V491.5M900.5 456.2V485.7M901.5 454.7V485.3M902.5 458.7V479.2M903.5 460.9V485.8M904.5 457.9V475.8M905.5 461.5V473.0M906.5 449.8V480.1M907.5 455.4V485.3M908.5 458.6V481.6M909.5 455.5V473.0M910.5 463.6V475.9M911.5 459.9V474.6M912.5 463.8V479.6M913.5 459.5V481.6M914.5 455.7V477.4M915.5 461.5V474.1M916.5 457.3V482.8M917.5 460.7V480.3M918.5 452.8V477.7M919.5 453.8V483.5M920.5 461.4V478.9M921.5 454.2V479.1M922.5 447.5V474.4M923.5 456.9V478.5M924.5 448.4V474.8M925.5 452.3V478.1M926.5 457.0V485.1M927.5 457.7V473.7M928.5 455.6V471.5M929.5 457.6V476.1M930.5 458.0V479.8M931.5 457.3V473.6M932.5 449.7V479.5M933.5 464.3V484.2M934.5 453.0V481.4M935.5 461.2V480.0M936.5 455.7V476.7M937.5 457.3V472.1M938.5 452.2V479.0M939.5 457.9V484.8M940.5 453.5V482.0M941.5 452.3V479.7M942.5 458.5V479.7M943.5 451.0V480.9M944.5 454.1V479.6M945.5 459.3V478.6M946.5 460.6V474.6M947.5 452.4V483.1M948.5 454.4V479.5M949.5 451.3V482.5M950.5 451.1V487.5M951.5 456.5V486.2M952.5 457.2V478.1M953.5 454.8V478.8M954.5 452.6V471.2M955.5 455.3V484.3M956.5 461.0V480.0M957.5 459.5V484.4M958.5 456.2V476.5M959.5 459.2V478.5M960.5 456.9V475.1M961.5 450.8V478.9M962.5 455.5V480.6M963.5 460.8V477.0M964.5 457.4V479.5M965.5 457.4V480.6M966.5 456.2V480.4M967.5 456.2V479.7M968.5 457.5V477.4M969.5 452.7V479.5M970.5 450.8V478.6M971.5 454.3V483.0M972.5 456.5V479.6M973.5 456.5V474.4M974.5 454.4V486.7M975.5 459.8V479.0M976.5 462.0V474.5M977.5 459.2V482.1M978.5 461.5V477.9M979.5 458.2V484.3M980.5 456.9V478.6M981.5 456.7V478.3M982.5 453.8V484.1M983.5 464.3V483.9M984.5 456.1V478.7M985.5 451.9V478.7M986.5 464.3V483.1M987.5 457.1V482.0M988.5 457.6V480.1M989.5 458.7V478.6M990.5 451.5V479.6M991.5 457.2V482.0M992.5 455.3V488.5M993.5 457.9V481.7M994.5 455.2V474.9M995.5 461.0V477.6M996.5 452.0V473.5M997.5 457.1V481.3M998.5 455.8V477.4M999.5 460.3V473.3M1000.5 463.1V483.0M1001.5 457.9V481.7M1002.5 458.4V473.9M1003.5 448.3V476.0M1004.5 459.9V477.5M1005.5 459.3V475.9M1006.5 462.2V483.4M1007.5 451.2V475.7M1008.5 451.2V483.8M1009.5 462.0V473.3M1010.5 450.0V478.4M1011.5 450.0V479.3M1012.5 458.5V482.8M1013.5 457.3V485.2M1014.5 454.2V475.2M1015.5 457.4V486.4M1016.5 456.5V484.8M1017.5 454.4V484.8M1018.5 457.3V476.0M1019.5 458.7V488.1M1020.5 462.0V484.6M1021.5 450.2V481.4M1022.5 460.4V480.6M1023.5 461.2V480.3M1024.5 454.8V490.9M1025.5 464.2V488.2M1026.5 459.2V477.5M1027.5 458.3V483.1M1028.5 453.8V476.5M1029.5 453.8V483.0M1030.5 454.2V472.5M1031.5 456.3V486.0M1032.5 453.3V477.9M1033.5 453.3V476.4M1034.5 461.4V476.2M1035.5 458.9V486.3M1036.5 447.0V478.8M1037.5 449.7V484.9M1038.5 444.2V490.9M1039.5 444.8V482.9M1040.5 449.4V485.0M1041.5 437.0V496.5M1042.5 444.6V513.0M1043.5 447.8V488.1M1044.5 436.2V485.1M1045.5 447.2V487.9M1046.5 423.0V494.9M1047.5 430.5V477.5M1048.5 442.3V492.8M1049.5 435.8V493.1M1050.5 428.6V510.6M1051.5 441.6V506.3M1052.5 440.3V496.9M1053.5 424.5V497.1M1054.5 424.7V507.4M1055.5 437.0V503.8M1056.5 418.8V482.3M1057.5 429.9V481.9M1058.5 434.4V512.7M1059.5 430.1V507.3M1060.5 442.6V494.8M1061.5 436.7V539.0M1062.5 411.0V510.9M1063.5 439.3V498.3M1064.5 418.5V496.3M1065.5 433.1V496.3M1066.5 436.6V482.2M1067.5 438.5V499.4M1068.5 447.3V510.3M1069.5 453.2V511.2M1070.5 453.1V498.9M1071.5 427.5V498.0M1072.5 447.7V502.0M1073.5 430.7V497.3M1074.5 448.0V490.2M1075.5 443.0V487.8M1076.5 450.3V487.1M1077.5 442.6V481.4M1078.5 458.9V489.3M1079.5 457.7V486.5M1080.5 454.5V479.0M1081.5 443.6V477.1M1082.5 454.8V481.2M1083.5 447.8V476.6M1084.5 463.2V477.3M1085.5 457.4V484.1M1086.5 449.0V479.6M1087.5 458.2V476.1M1088.5 456.5V478.0M1089.5 457.8V476.4M1090.5 456.2V476.4M1091.5 452.6V482.8M1092.5 456.9V482.1M1093.5 457.0V478.4M1094.5 455.0V484.6M1095.5 454.2V481.3M1096.5 454.4V483.3M1097.5 455.8V481.4M1098.5 457.6V478.1M1099.5 460.5V478.6M1100.5 453.0V477.2M1101.5 457.2V480.9M1102.5 453.9V482.2M1103.5 458.6V486.2M1104.5 457.0V485.0M1105.5 461.4V487.3M1106.5 447.8V487.3M1107.5 447.8V488.7M1108.5 463.9V481.4M1109.5 459.3V482.4M1110.5 458.4V479.6M1111.5 458.7V488.1M1112.5 458.6V480.5M1113.5 445.6V477.4M1114.5 456.8V483.8M1115.5 454.6V501.0M1116.5 460.2V482.3M1117.5 456.5V485.5M1118.5 461.9V477.0M1119.5 455.9V478.9M1120.5 460.9V480.5M1121.5 452.6V479.6M1122.5 458.3V484.0M1123.5 458.5V476.8M1124.5 458.5V475.2M1125.5 457.9V476.8M1126.5 446.4V483.0M1127.5 454.6V476.4M1128.5 456.3V480.5" stroke="#c0392b" stroke-width="1" fill="none"/>
<path d="M227.5 356v10M227.5 591v-10 M345.5 356v10M345.5 591v-10 M462.5 356v10M462.5 591v-10 M579.5 356v10M579.5 591v-10 M697.5 356v10M697.5 591v-10 M814.5 356v10M814.5 591v-10 M931.5 356v10M931.5 591v-10 M1049.5 356v10M1049.5 591v-10 M110 359.5h10M1167 359.5h-10 M110 387.5h10M1167 387.5h-10 M110 414.5h10M1167 414.5h-10 M110 441.5h10M1167 441.5h-10 M110 495.5h10M1167 495.5h-10 M110 522.5h10M1167 522.5h-10 M110 550.5h10M1167 550.5h-10 M110 577.5h10M1167 577.5h-10" stroke="#000" stroke-width="1" fill="none"/>
<rect x="110.5" y="356.5" width="1056" height="234" stroke="#000" stroke-width="1.1" fill="none"/>
<text x="68.81" y="362.8" font-size="10.60" fill="#000" textLength="30.49" lengthAdjust="spacingAndGlyphs">0.004</text>
<text x="68.81" y="390.8" font-size="10.60" fill="#000" textLength="30.49" lengthAdjust="spacingAndGlyphs">0.003</text>
<text x="68.81" y="417.8" font-size="10.60" fill="#000" textLength="30.49" lengthAdjust="spacingAndGlyphs">0.002</text>
<text x="68.81" y="444.8" font-size="10.60" fill="#000" textLength="30.49" lengthAdjust="spacingAndGlyphs">0.001</text>
<text x="92.52" y="471.8" font-size="10.60" fill="#000" textLength="6.78" lengthAdjust="spacingAndGlyphs">0</text>
<text x="64.97" y="498.8" font-size="10.60" fill="#000" textLength="34.33" lengthAdjust="spacingAndGlyphs">-0.001</text>
<text x="64.97" y="525.8" font-size="10.60" fill="#000" textLength="34.33" lengthAdjust="spacingAndGlyphs">-0.002</text>
<text x="64.97" y="553.8" font-size="10.60" fill="#000" textLength="34.33" lengthAdjust="spacingAndGlyphs">-0.003</text>
<text x="64.97" y="580.8" font-size="10.60" fill="#000" textLength="34.33" lengthAdjust="spacingAndGlyphs">-0.004</text>
<text x="85.81" y="611" font-size="10.60" fill="#000" textLength="47.38" lengthAdjust="spacingAndGlyphs">13:38:08</text>
<text x="203.14" y="611" font-size="10.60" fill="#000" textLength="47.38" lengthAdjust="spacingAndGlyphs">13:38:16</text>
<text x="320.48" y="611" font-size="10.60" fill="#000" textLength="47.38" lengthAdjust="spacingAndGlyphs">13:38:24</text>
<text x="437.81" y="611" font-size="10.60" fill="#000" textLength="47.38" lengthAdjust="spacingAndGlyphs">13:38:32</text>
<text x="555.14" y="611" font-size="10.60" fill="#000" textLength="47.38" lengthAdjust="spacingAndGlyphs">13:38:40</text>
<text x="672.48" y="611" font-size="10.60" fill="#000" textLength="47.38" lengthAdjust="spacingAndGlyphs">13:38:48</text>
<text x="789.81" y="611" font-size="10.60" fill="#000" textLength="47.38" lengthAdjust="spacingAndGlyphs">13:38:56</text>
<text x="907.14" y="611" font-size="10.60" fill="#000" textLength="47.38" lengthAdjust="spacingAndGlyphs">13:39:04</text>
<text x="1024.48" y="611" font-size="10.60" fill="#000" textLength="47.38" lengthAdjust="spacingAndGlyphs">13:39:12</text>
<text x="1141.81" y="611" font-size="10.60" fill="#000" textLength="47.38" lengthAdjust="spacingAndGlyphs">13:39:20</text>
<text x="557.38" y="635.8" font-size="16.96" fill="#000" stroke="#000" textLength="159.44" lengthAdjust="spacingAndGlyphs">Tiempo (HH:MM:SS)</text>
<text stroke="#000" x="-60.13" y="0" font-size="16.96" textLength="120.26" lengthAdjust="spacingAndGlyphs" transform="translate(19.7 473.5) rotate(-90)">Transversal (g)</text>
<text x="1002.61" y="377.8" font-size="16.96" fill="#000" stroke="#000" textLength="75.09" lengthAdjust="spacingAndGlyphs">Trans. (g)</text>
<path d="M1091 374.5H1145" stroke="#c0392b" stroke-width="1.2"/>
<text x="120.80" y="394.7" font-size="12.72" fill="#ff0000" textLength="101.08" lengthAdjust="spacingAndGlyphs">PGA: 0.003254 g</text>
<text x="120.80" y="406.2" font-size="12.72" fill="#ff0000" textLength="203.72" lengthAdjust="spacingAndGlyphs">(Máx: 0.002895 / Mín: -0.003254)</text>
<path d="M227.5 674V885 M345.5 674V885 M462.5 674V885 M579.5 674V885 M697.5 674V885 M814.5 674V885 M931.5 674V885 M1049.5 674V885 M122 664.5H1156 M122 703.5H1156 M122 742.5H1156 M122 819.5H1156 M122 858.5H1156" stroke="#a0a0a0" stroke-width="1" stroke-dasharray="2,2" fill="none"/>
<rect x="980" y="667" width="177" height="23" fill="#fff"/>
<path d="M110 780.5H1166" stroke="#ff0000" stroke-width="1.2"/>
<path d="M213.5 772.7V790.8M214.5 773.9V785.3M215.5 775.8V786.9M216.5 769.5V788.7M217.5 772.8V786.3M218.5 773.9V784.1M219.5 775.6V788.4M220.5 775.6V786.4M221.5 770.2V786.1M222.5 770.2V786.6M223.5 773.4V785.1M224.5 774.7V784.1M225.5 774.7V786.4M226.5 769.3V792.4M227.5 771.5V788.6M228.5 774.3V788.3M229.5 768.8V789.4M230.5 773.0V781.7M231.5 776.7V786.2M232.5 775.4V786.7M233.5 771.7V785.1M234.5 774.8V789.8M235.5 774.7V783.5M236.5 772.6V784.9M237.5 772.6V786.2M238.5 772.9V787.7M239.5 778.1V788.9M240.5 772.5V784.8M241.5 777.0V787.8M242.5 775.5V787.1M243.5 776.5V785.3M244.5 772.7V785.5M245.5 771.7V785.0M246.5 773.9V786.9M247.5 769.9V788.8M248.5 771.7V786.0M249.5 771.4V785.0M250.5 776.5V785.4M251.5 772.3V788.2M252.5 772.3V785.6M253.5 771.7V785.0M254.5 775.2V787.6M255.5 772.1V784.3M256.5 767.4V792.6M257.5 771.4V792.8M258.5 772.7V789.7M259.5 772.9V787.4M260.5 770.4V786.6M261.5 770.6V786.1M262.5 771.6V787.9M263.5 773.3V787.2M264.5 773.9V790.7M265.5 773.6V785.5M266.5 774.5V791.1M267.5 775.7V787.6M268.5 768.2V789.2M269.5 772.3V786.2M270.5 773.6V787.5M271.5 772.1V784.7M272.5 774.8V789.0M273.5 775.1V789.0M274.5 774.7V786.8M275.5 770.2V787.9M276.5 771.3V785.5M277.5 775.4V786.4M278.5 768.1V782.4M279.5 774.6V785.3M280.5 774.3V785.3M281.5 771.4V789.7M282.5 768.0V787.7M283.5 773.5V786.7M284.5 772.6V786.3M285.5 774.4V786.7M286.5 773.5V787.3M287.5 774.2V785.5M288.5 772.5V783.8M289.5 772.4V786.2M290.5 772.7V789.7M291.5 772.7V786.1M292.5 773.3V785.3M293.5 771.3V783.4M294.5 773.8V787.2M295.5 774.5V783.4M296.5 773.5V787.3M297.5 773.5V787.5M298.5 775.4V784.8M299.5 773.6V787.3M300.5 770.1V788.5M301.5 774.1V784.9M302.5 774.3V788.1M303.5 774.3V785.3M304.5 774.4V786.6M305.5 772.9V785.5M306.5 776.6V785.1M307.5 768.5V786.9M308.5 775.5V789.2M309.5 776.8V785.2M310.5 775.3V785.2M311.5 776.3V787.2M312.5 775.3V782.4M313.5 768.1V784.0M314.5 770.7V789.5M315.5 767.2V787.8M316.5 775.6V786.1M317.5 773.7V785.5M318.5 773.0V791.4M319.5 771.0V786.1M320.5 771.0V787.9M321.5 769.1V785.9M322.5 775.8V785.3M323.5 776.2V783.1M324.5 775.7V786.1M325.5 770.1V786.9M326.5 775.2V784.8M327.5 775.7V784.8M328.5 775.9V789.1M329.5 772.0V784.6M330.5 770.7V784.9M331.5 768.2V782.8M332.5 772.0V788.8M333.5 769.0V784.5M334.5 773.8V786.7M335.5 769.3V786.5M336.5 769.2V783.8M337.5 777.7V786.1M338.5 773.5V786.7M339.5 771.1V788.3M340.5 770.5V785.0M341.5 767.9V790.6M342.5 775.1V789.0M343.5 773.3V791.2M344.5 769.3V788.2M345.5 773.4V784.5M346.5 773.4V788.9M347.5 773.8V784.9M348.5 774.4V793.1M349.5 766.6V786.1M350.5 777.3V786.4M351.5 773.7V786.4M352.5 769.3V789.9M353.5 768.9V787.7M354.5 767.5V790.5M355.5 775.0V790.1M356.5 775.6V793.2M357.5 772.3V783.0M358.5 773.9V785.6M359.5 777.4V789.0M360.5 774.8V788.0M361.5 771.8V788.2M362.5 774.3V787.0M363.5 770.0V785.7M364.5 770.0V789.0M365.5 775.8V788.4M366.5 775.6V789.8M367.5 774.1V789.6M368.5 772.9V787.6M369.5 768.7V785.5M370.5 768.1V785.6M371.5 765.4V785.3M372.5 773.2V793.2M373.5 770.2V789.1M374.5 768.2V786.1M375.5 766.0V788.5M376.5 775.1V794.0M377.5 766.9V792.5M378.5 767.1V792.9M379.5 771.4V796.7M380.5 771.4V786.6M381.5 772.8V787.9M382.5 774.3V791.5M383.5 761.0V812.0M384.5 769.6V788.9M385.5 762.8V790.4M386.5 773.4V788.8M387.5 771.1V790.3M388.5 775.8V787.0M389.5 774.0V786.0M390.5 772.9V785.4M391.5 774.1V789.7M392.5 769.6V784.5M393.5 769.0V787.3M394.5 771.6V787.1M395.5 775.2V785.5M396.5 767.7V789.1M397.5 778.0V790.2M398.5 771.2V790.5M399.5 771.5V787.5M400.5 776.0V786.0M401.5 771.0V784.4M402.5 776.2V790.6M403.5 770.5V787.9M404.5 772.7V786.2M405.5 775.7V790.0M406.5 772.1V787.2M407.5 772.4V782.5M408.5 773.0V786.6M409.5 773.0V785.2M410.5 771.3V787.8M411.5 771.4V786.3M412.5 773.4V787.4M413.5 772.5V788.4M414.5 768.8V784.5M415.5 775.3V787.6M416.5 775.1V786.1M417.5 772.6V784.5M418.5 771.6V783.8M419.5 774.6V793.5M420.5 766.2V783.6M421.5 766.2V786.4M422.5 768.3V785.8M423.5 771.6V787.5M424.5 769.5V783.2M425.5 771.3V784.9M426.5 774.3V786.6M427.5 776.9V787.0M428.5 772.5V785.1M429.5 770.3V784.4M430.5 771.0V783.9M431.5 776.0V786.4M432.5 771.5V786.7M433.5 774.9V790.0M434.5 770.6V790.1M435.5 770.4V791.7M436.5 771.0V786.8M437.5 773.6V785.8M438.5 766.4V787.7M439.5 773.8V785.3M440.5 771.3V788.6M441.5 769.3V787.1M442.5 775.1V786.6M443.5 771.1V787.2M444.5 773.7V786.6M445.5 770.8V785.2M446.5 767.7V791.3M447.5 771.9V786.1M448.5 773.3V788.3M449.5 768.7V786.5M450.5 771.9V787.5M451.5 765.2V792.2M452.5 772.7V786.1M453.5 769.3V786.1M454.5 771.3V796.0M455.5 769.5V788.8M456.5 768.0V794.1M457.5 772.5V794.1M458.5 772.2V788.9M459.5 763.4V790.6M460.5 763.4V787.3M461.5 763.9V790.4M462.5 771.7V794.1M463.5 771.9V788.8M464.5 777.5V788.8M465.5 774.0V788.8M466.5 768.1V790.0M467.5 768.7V785.6M468.5 774.8V787.7M469.5 773.4V787.2M470.5 768.2V787.1M471.5 768.2V785.0M472.5 770.1V787.8M473.5 769.7V788.4M474.5 776.6V788.5M475.5 769.3V787.0M476.5 767.8V786.7M477.5 773.7V788.5M478.5 777.2V792.2M479.5 768.8V790.2M480.5 770.5V787.5M481.5 773.3V786.9M482.5 777.2V789.4M483.5 766.7V788.0M484.5 769.5V796.2M485.5 774.4V793.7M486.5 768.3V789.9M487.5 771.4V786.1M488.5 769.7V788.5M489.5 775.6V789.0M490.5 770.7V787.3M491.5 767.7V786.1M492.5 768.3V783.9M493.5 772.5V791.9M494.5 770.2V788.1M495.5 772.6V785.1M496.5 767.9V785.1M497.5 773.4V787.0M498.5 769.7V784.4M499.5 772.8V791.9M500.5 772.8V785.8M501.5 773.9V786.4M502.5 769.0V788.2M503.5 771.4V787.2M504.5 771.4V787.9M505.5 775.1V782.9M506.5 772.7V784.8M507.5 774.6V786.5M508.5 776.0V785.4M509.5 770.1V784.8M510.5 770.1V783.8M511.5 774.3V786.8M512.5 773.1V786.7M513.5 770.5V785.2M514.5 776.3V788.4M515.5 775.5V786.8M516.5 773.6V784.9M517.5 773.6V789.7M518.5 777.0V787.5M519.5 771.7V787.1M520.5 774.5V783.6M521.5 765.0V789.1M522.5 770.5V790.9M523.5 768.5V795.2M524.5 772.6V787.8M525.5 774.7V789.6M526.5 773.5V790.1M527.5 769.0V787.1M528.5 758.0V802.0M529.5 767.2V786.4M530.5 769.8V785.5M531.5 771.4V787.8M532.5 774.5V786.8M533.5 773.9V788.3M534.5 775.2V783.4M535.5 769.7V783.7M536.5 775.0V786.4M537.5 774.4V784.8M538.5 772.3V787.7M539.5 772.3V783.6M540.5 773.7V788.3M541.5 775.0V788.6M542.5 770.9V787.9M543.5 772.0V786.7M544.5 772.5V786.1M545.5 771.5V785.1M546.5 775.1V788.8M547.5 774.4V786.0M548.5 772.8V786.1M549.5 771.4V786.8M550.5 769.4V789.8M551.5 774.5V785.5M552.5 771.3V788.9M553.5 773.8V788.9M554.5 771.0V793.4M555.5 775.5V786.4M556.5 772.9V789.0M557.5 771.3V789.0M558.5 770.8V789.2M559.5 770.4V790.0M560.5 771.4V790.0M561.5 772.6V788.7M562.5 774.3V784.6M563.5 773.4V786.7M564.5 771.1V785.9M565.5 775.5V789.0M566.5 774.5V789.6M567.5 773.5V782.7M568.5 777.3V790.2M569.5 770.4V790.2M570.5 770.4V782.6M571.5 769.3V782.6M572.5 777.1V787.6M573.5 766.9V787.2M574.5 772.3V785.6M575.5 774.4V786.1M576.5 778.0V788.4M577.5 772.9V787.7M578.5 772.5V792.2M579.5 773.0V789.7M580.5 773.0V790.1M581.5 768.4V790.0M582.5 772.8V788.9M583.5 767.2V790.7M584.5 767.2V789.3M585.5 767.9V795.4M586.5 768.8V790.3M587.5 774.0V789.5M588.5 772.0V788.0M589.5 772.0V787.2M590.5 775.0V786.9M591.5 771.7V786.9M592.5 776.6V790.1M593.5 773.9V790.8M594.5 775.2V784.6M595.5 772.7V786.0M596.5 776.8V790.8M597.5 776.6V787.5M598.5 773.9V787.5M599.5 772.6V790.4M600.5 771.4V786.6M601.5 774.6V789.6M602.5 770.4V788.9M603.5 771.0V792.0M604.5 766.0V791.6M605.5 768.3V785.0M606.5 770.3V790.6M607.5 774.0V790.0M608.5 769.5V788.4M609.5 771.5V787.5M610.5 771.5V786.9M611.5 769.4V794.0M612.5 772.9V789.2M613.5 764.9V795.0M614.5 765.9V795.9M615.5 770.6V790.2M616.5 773.5V791.7M617.5 773.9V787.0M618.5 770.8V788.6M619.5 769.7V784.6M620.5 769.9V795.4M621.5 773.4V787.6M622.5 767.7V791.1M623.5 773.9V790.0M624.5 775.0V789.0M625.5 767.7V791.7M626.5 768.0V788.2M627.5 777.6V792.0M628.5 772.5V786.5M629.5 766.0V785.6M630.5 766.0V789.2M631.5 771.1V788.2M632.5 775.4V786.0M633.5 768.7V793.8M634.5 774.8V793.7M635.5 772.2V785.9M636.5 769.9V788.0M637.5 772.5V785.7M638.5 774.6V786.1M639.5 771.8V792.4M640.5 773.0V782.2M641.5 773.1V788.4M642.5 772.0V786.0M643.5 771.7V788.2M644.5 774.6V794.7M645.5 774.0V794.7M646.5 774.0V786.3M647.5 771.2V794.6M648.5 761.7V801.6M649.5 761.1V796.9M650.5 767.3V815.9M651.5 745.9V807.3M652.5 760.1V817.4M653.5 750.7V806.6M654.5 750.9V813.7M655.5 724.7V828.0M656.5 730.1V801.3M657.5 730.1V825.3M658.5 753.9V812.0M659.5 719.4V808.1M660.5 726.0V840.8M661.5 730.9V836.0M662.5 729.2V813.0M663.5 757.0V830.0M664.5 717.0V839.4M665.5 754.6V815.5M666.5 726.3V846.9M667.5 694.0V848.4M668.5 740.5V862.0M669.5 713.5V838.4M670.5 755.3V824.0M671.5 748.5V814.2M672.5 759.7V828.0M673.5 759.0V821.9M674.5 759.8V818.2M675.5 736.6V801.4M676.5 736.6V810.4M677.5 743.0V810.4M678.5 749.2V814.1M679.5 761.1V803.6M680.5 756.1V791.5M681.5 761.3V791.6M682.5 762.9V793.3M683.5 768.8V792.7M684.5 766.1V798.8M685.5 768.5V793.3M686.5 776.2V785.5M687.5 767.6V787.4M688.5 772.4V789.3M689.5 775.4V787.7M690.5 773.2V793.4M691.5 770.6V789.5M692.5 770.6V789.3M693.5 770.6V787.3M694.5 770.2V788.7M695.5 774.4V786.4M696.5 770.5V787.8M697.5 768.7V788.4M698.5 747.0V787.6M699.5 770.4V787.9M700.5 772.5V790.5M701.5 767.9V786.7M702.5 768.0V793.3M703.5 770.8V786.8M704.5 766.0V793.1M705.5 763.2V786.8M706.5 774.9V795.3M707.5 762.5V812.6M708.5 761.7V809.9M709.5 762.7V806.6M710.5 747.2V789.5M711.5 735.0V831.0M712.5 741.8V795.4M713.5 745.2V819.9M714.5 760.1V821.9M715.5 767.2V821.9M716.5 751.9V807.9M717.5 759.0V799.5M718.5 755.3V810.9M719.5 770.4V808.5M720.5 754.2V806.3M721.5 764.5V811.1M722.5 764.0V795.1M723.5 764.0V808.0M724.5 767.3V787.0M725.5 764.5V805.4M726.5 771.1V792.4M727.5 774.1V802.7M728.5 773.7V802.7M729.5 761.6V795.8M730.5 769.4V787.7M731.5 768.2V795.0M732.5 768.4V793.2M733.5 768.1V787.7M734.5 770.8V791.4M735.5 770.4V790.3M736.5 775.2V788.5M737.5 771.0V791.8M738.5 771.0V786.6M739.5 777.3V789.0M740.5 764.4V789.0M741.5 769.3V787.3M742.5 765.8V790.5M743.5 769.3V783.8M744.5 771.5V788.2M745.5 774.7V785.2M746.5 768.9V791.0M747.5 775.1V787.8M748.5 773.5V787.8M749.5 770.8V787.8M750.5 773.8V785.2M751.5 774.7V793.3M752.5 774.1V789.0M753.5 773.0V789.2M754.5 771.9V787.4M755.5 773.2V785.8M756.5 774.1V784.7M757.5 771.3V787.5M758.5 774.2V786.0M759.5 772.4V787.3M760.5 771.6V790.5M761.5 774.7V784.9M762.5 775.4V783.6M763.5 775.0V786.6M764.5 772.9V787.5M765.5 775.1V784.3M766.5 772.6V785.6M767.5 775.4V788.6M768.5 774.7V787.2M769.5 770.3V786.1M770.5 771.8V790.2M771.5 773.4V789.7M772.5 771.4V793.6M773.5 774.8V789.7M774.5 771.1V789.7M775.5 766.7V788.1M776.5 775.2V786.3M777.5 767.9V784.6M778.5 767.6V791.5M779.5 775.7V790.6M780.5 772.7V790.6M781.5 772.7V791.6M782.5 770.3V787.7M783.5 775.4V787.0M784.5 773.3V789.4M785.5 775.5V790.4M786.5 768.3V790.0M787.5 774.4V789.9M788.5 773.8V787.1M789.5 776.1V787.4M790.5 772.6V784.1M791.5 771.5V790.1M792.5 775.6V790.1M793.5 766.9V790.6M794.5 773.6V787.1M795.5 774.2V784.6M796.5 775.2V789.1M797.5 770.0V784.5M798.5 772.5V783.2M799.5 773.2V790.8M800.5 773.2V787.1M801.5 772.6V791.5M802.5 770.3V793.5M803.5 774.3V787.9M804.5 774.9V783.2M805.5 770.5V787.1M806.5 770.1V783.7M807.5 772.0V786.4M808.5 772.0V787.4M809.5 776.0V787.0M810.5 775.2V783.7M811.5 775.1V790.6M812.5 773.1V787.2M813.5 773.0V787.6M814.5 773.4V789.7M815.5 777.5V790.8M816.5 772.1V786.8M817.5 771.7V787.2M818.5 774.6V790.1M819.5 775.3V789.1M820.5 773.4V784.8M821.5 767.8V787.1M822.5 773.9V786.3M823.5 774.1V787.6M824.5 775.5V786.4M825.5 769.2V789.6M826.5 774.9V785.9M827.5 777.3V788.2M828.5 772.1V787.8M829.5 773.9V793.0M830.5 776.2V791.6M831.5 773.3V789.4M832.5 770.1V786.6M833.5 773.2V790.9M834.5 773.1V787.7M835.5 774.3V787.8M836.5 767.8V785.2M837.5 767.6V785.3M838.5 769.6V789.6M839.5 771.6V793.7M840.5 772.3V788.9M841.5 770.2V791.7M842.5 770.0V790.1M843.5 776.5V791.9M844.5 767.5V787.4M845.5 774.9V789.9M846.5 773.0V788.8M847.5 767.0V792.6M848.5 771.8V787.8M849.5 771.8V785.5M850.5 769.1V791.3M851.5 771.8V786.6M852.5 765.7V788.1M853.5 774.0V787.8M854.5 769.8V789.7M855.5 769.5V790.5M856.5 775.3V790.5M857.5 764.4V789.7M858.5 764.4V789.1M859.5 772.1V788.2M860.5 774.4V789.1M861.5 772.6V786.5M862.5 772.4V786.2M863.5 767.2V796.1M864.5 775.1V795.9M865.5 765.0V799.8M866.5 763.9V786.4M867.5 772.0V796.0M868.5 776.6V805.0M869.5 770.7V789.8M870.5 766.0V788.3M871.5 767.8V798.2M872.5 767.8V787.2M873.5 767.0V801.4M874.5 764.8V802.9M875.5 774.6V789.6M876.5 771.6V795.9M877.5 762.2V787.9M878.5 768.6V791.0M879.5 768.6V787.0M880.5 765.2V784.7M881.5 771.5V794.4M882.5 765.9V791.3M883.5 764.0V796.5M884.5 764.5V798.6M885.5 751.0V798.6M886.5 776.7V792.8M887.5 764.6V790.7M888.5 764.6V790.3M889.5 757.1V790.8M890.5 770.9V784.7M891.5 764.8V789.3M892.5 771.6V792.5M893.5 767.6V791.3M894.5 768.9V787.5M895.5 768.8V790.0M896.5 772.4V793.8M897.5 772.5V787.6M898.5 773.4V788.9M899.5 771.4V786.6M900.5 770.2V789.3M901.5 774.5V794.8M902.5 772.0V785.6M903.5 772.7V789.0M904.5 773.1V793.9M905.5 767.4V788.2M906.5 765.4V785.0M907.5 775.0V785.0M908.5 773.5V793.6M909.5 771.9V789.9M910.5 772.7V785.1M911.5 773.4V788.1M912.5 777.0V782.6M913.5 768.6V792.4M914.5 767.2V784.3M915.5 770.2V785.2M916.5 765.8V791.5M917.5 775.6V789.1M918.5 767.1V785.9M919.5 771.9V787.5M920.5 766.2V789.3M921.5 766.2V793.4M922.5 767.5V788.8M923.5 771.6V785.5M924.5 775.1V788.1M925.5 769.9V786.6M926.5 774.7V794.6M927.5 772.5V790.4M928.5 771.1V787.4M929.5 767.0V784.6M930.5 774.4V789.0M931.5 772.2V788.1M932.5 773.3V789.2M933.5 770.2V791.0M934.5 771.8V786.9M935.5 777.5V789.8M936.5 771.3V789.0M937.5 768.7V790.3M938.5 771.1V790.3M939.5 768.4V789.4M940.5 768.4V790.4M941.5 771.4V785.5M942.5 772.8V787.1M943.5 770.4V785.8M944.5 772.3V790.0M945.5 774.3V790.6M946.5 775.9V787.9M947.5 774.9V789.7M948.5 772.0V787.5M949.5 770.2V784.0M950.5 772.5V786.8M951.5 768.9V788.7M952.5 772.2V783.7M953.5 773.2V788.7M954.5 770.4V784.7M955.5 770.4V790.5M956.5 777.4V787.5M957.5 768.0V789.3M958.5 775.1V789.7M959.5 771.3V785.4M960.5 772.0V788.1M961.5 771.9V787.7M962.5 770.2V788.8M963.5 765.9V785.8M964.5 774.4V786.7M965.5 773.7V789.4M966.5 773.4V783.4M967.5 774.6V788.9M968.5 775.5V787.4M969.5 768.3V786.0M970.5 768.3V787.3M971.5 772.7V785.3M972.5 774.8V785.6M973.5 773.8V784.6M974.5 777.0V792.0M975.5 770.2V793.1M976.5 775.0V784.4M977.5 770.7V789.0M978.5 767.7V787.7M979.5 770.2V786.0M980.5 771.4V786.0M981.5 770.7V789.1M982.5 770.7V788.2M983.5 774.2V789.4M984.5 773.7V789.7M985.5 773.7V789.8M986.5 774.6V787.0M987.5 771.4V788.7M988.5 770.9V789.3M989.5 769.0V785.0M990.5 771.9V792.4M991.5 774.8V785.8M992.5 773.1V786.2M993.5 771.1V790.8M994.5 771.5V792.2M995.5 771.6V789.9M996.5 774.5V788.8M997.5 772.1V787.3M998.5 769.8V785.8M999.5 769.8V787.8M1000.5 775.1V791.1M1001.5 775.2V788.6M1002.5 770.2V790.1M1003.5 765.9V787.4M1004.5 770.1V789.0M1005.5 772.2V788.8M1006.5 771.7V787.0M1007.5 771.0V790.6M1008.5 769.8V788.0M1009.5 776.8V793.7M1010.5 769.2V784.6M1011.5 771.6V785.3M1012.5 772.1V788.6M1013.5 772.0V786.8M1014.5 770.8V786.5M1015.5 773.6V783.8M1016.5 769.4V784.3M1017.5 774.1V785.0M1018.5 771.4V785.0M1019.5 772.1V792.6M1020.5 772.1V787.6M1021.5 770.4V787.6M1022.5 770.4V791.3M1023.5 774.1V790.9M1024.5 771.4V789.7M1025.5 773.1V786.7M1026.5 769.8V787.7M1027.5 776.0V785.4M1028.5 775.2V789.4M1029.5 771.2V785.9M1030.5 774.0V786.7M1031.5 777.0V787.6M1032.5 774.0V790.5M1033.5 772.1V788.2M1034.5 768.4V791.0M1035.5 766.4V785.3M1036.5 772.6V785.9M1037.5 773.0V790.8M1038.5 771.1V788.5M1039.5 770.2V788.8M1040.5 760.2V796.5M1041.5 774.1V794.7M1042.5 769.4V790.9M1043.5 768.8V788.4M1044.5 771.5V790.3M1045.5 772.6V788.8M1046.5 775.6V796.5M1047.5 761.0V801.0M1048.5 760.4V789.8M1049.5 765.4V791.7M1050.5 764.3V790.6M1051.5 763.4V789.0M1052.5 763.4V790.8M1053.5 761.6V790.1M1054.5 763.7V791.9M1055.5 774.3V795.3M1056.5 768.8V788.0M1057.5 768.7V793.7M1058.5 763.0V793.7M1059.5 764.7V784.5M1060.5 773.1V784.7M1061.5 773.1V785.2M1062.5 772.6V787.7M1063.5 765.9V786.1M1064.5 765.9V788.9M1065.5 771.8V788.9M1066.5 772.7V788.0M1067.5 773.5V788.2M1068.5 773.5V786.1M1069.5 777.2V787.1M1070.5 774.2V790.9M1071.5 768.0V788.4M1072.5 776.0V786.6M1073.5 776.1V786.3M1074.5 776.9V786.3M1075.5 770.9V789.5M1076.5 775.5V792.1M1077.5 770.4V787.8M1078.5 769.2V785.5M1079.5 771.2V787.6M1080.5 769.4V787.2M1081.5 769.4V789.1M1082.5 773.5V785.9M1083.5 773.8V792.5M1084.5 775.3V785.2M1085.5 775.0V787.7M1086.5 770.8V786.8M1087.5 771.0V788.5M1088.5 775.5V786.8M1089.5 769.3V786.4M1090.5 772.2V784.1M1091.5 772.8V786.8M1092.5 771.0V786.1M1093.5 773.9V787.8M1094.5 775.7V789.4M1095.5 775.7V789.1M1096.5 773.3V785.7M1097.5 772.7V785.6M1098.5 777.3V788.6M1099.5 770.7V790.9M1100.5 773.4V790.9M1101.5 773.4V785.7M1102.5 774.7V785.7M1103.5 769.7V786.1M1104.5 768.9V785.3M1105.5 769.6V789.1M1106.5 770.8V787.3M1107.5 774.5V786.5M1108.5 771.8V788.4M1109.5 769.7V790.4M1110.5 770.3V788.8M1111.5 764.9V785.8M1112.5 774.3V791.4M1113.5 767.2V788.0M1114.5 774.3V789.7M1115.5 772.4V789.7M1116.5 766.6V790.2M1117.5 766.7V787.0M1118.5 769.7V788.4M1119.5 771.5V785.0M1120.5 774.6V790.2M1121.5 770.6V788.3M1122.5 772.9V788.3M1123.5 767.7V791.9M1124.5 770.1V789.3M1125.5 771.0V788.4M1126.5 768.6V785.4M1127.5 770.3V788.6M1128.5 770.7V785.6" stroke="#1e8449" stroke-width="1" fill="none"/>
<path d="M227.5 661v10M227.5 896v-10 M345.5 661v10M345.5 896v-10 M462.5 661v10M462.5 896v-10 M579.5 661v10M579.5 896v-10 M697.5 661v10M697.5 896v-10 M814.5 661v10M814.5 896v-10 M931.5 661v10M931.5 896v-10 M1049.5 661v10M1049.5 896v-10 M110 664.5h10M1167 664.5h-10 M110 703.5h10M1167 703.5h-10 M110 742.5h10M1167 742.5h-10 M110 819.5h10M1167 819.5h-10 M110 858.5h10M1167 858.5h-10" stroke="#000" stroke-width="1" fill="none"/>
<rect x="110.5" y="661.5" width="1056" height="234" stroke="#000" stroke-width="1.1" fill="none"/>
<text x="68.81" y="667.8" font-size="10.60" fill="#000" textLength="30.49" lengthAdjust="spacingAndGlyphs">0.015</text>
<text x="75.59" y="706.8" font-size="10.60" fill="#000" textLength="23.71" lengthAdjust="spacingAndGlyphs">0.01</text>
<text x="68.81" y="745.8" font-size="10.60" fill="#000" textLength="30.49" lengthAdjust="spacingAndGlyphs">0.005</text>
<text x="92.52" y="783.8" font-size="10.60" fill="#000" textLength="6.78" lengthAdjust="spacingAndGlyphs">0</text>
<text x="64.97" y="822.8" font-size="10.60" fill="#000" textLength="34.33" lengthAdjust="spacingAndGlyphs">-0.005</text>
<text x="71.74" y="861.8" font-size="10.60" fill="#000" textLength="27.56" lengthAdjust="spacingAndGlyphs">-0.01</text>
<text x="85.81" y="916" font-size="10.60" fill="#000" textLength="47.38" lengthAdjust="spacingAndGlyphs">13:38:08</text>
<text x="203.14" y="916" font-size="10.60" fill="#000" textLength="47.38" lengthAdjust="spacingAndGlyphs">13:38:16</text>
<text x="320.48" y="916" font-size="10.60" fill="#000" textLength="47.38" lengthAdjust="spacingAndGlyphs">13:38:24</text>
<text x="437.81" y="916" font-size="10.60" fill="#000" textLength="47.38" lengthAdjust="spacingAndGlyphs">13:38:32</text>
<text x="555.14" y="916" font-size="10.60" fill="#000" textLength="47.38" lengthAdjust="spacingAndGlyphs">13:38:40</text>
<text x="672.48" y="916" font-size="10.60" fill="#000" textLength="47.38" lengthAdjust="spacingAndGlyphs">13:38:48</text>
<text x="789.81" y="916" font-size="10.60" fill="#000" textLength="47.38" lengthAdjust="spacingAndGlyphs">13:38:56</text>
<text x="907.14" y="916" font-size="10.60" fill="#000" textLength="47.38" lengthAdjust="spacingAndGlyphs">13:39:04</text>
<text x="1024.48" y="916" font-size="10.60" fill="#000" textLength="47.38" lengthAdjust="spacingAndGlyphs">13:39:12</text>
<text x="1141.81" y="916" font-size="10.60" fill="#000" textLength="47.38" lengthAdjust="spacingAndGlyphs">13:39:20</text>
<text x="557.38" y="940.8" font-size="16.96" fill="#000" stroke="#000" textLength="159.44" lengthAdjust="spacingAndGlyphs">Tiempo (HH:MM:SS)</text>
<text stroke="#000" x="-44.47" y="0" font-size="16.96" textLength="88.93" lengthAdjust="spacingAndGlyphs" transform="translate(19.7 779.2) rotate(-90)">Vertical (g)</text>
<text x="1014.29" y="682.8" font-size="16.96" fill="#000" stroke="#000" textLength="65.21" lengthAdjust="spacingAndGlyphs">Vert. (g)</text>
<path d="M1091 679.5H1145" stroke="#1e8449" stroke-width="1.2"/>
<text x="120.80" y="699.7" font-size="12.72" fill="#006400" textLength="101.08" lengthAdjust="spacingAndGlyphs">PGA: 0.011110 g</text>
<text x="120.80" y="711.2" font-size="12.72" fill="#006400" textLength="203.72" lengthAdjust="spacingAndGlyphs">(Máx: 0.011110 / Mín: -0.010476)</text>
</svg></body></html>
